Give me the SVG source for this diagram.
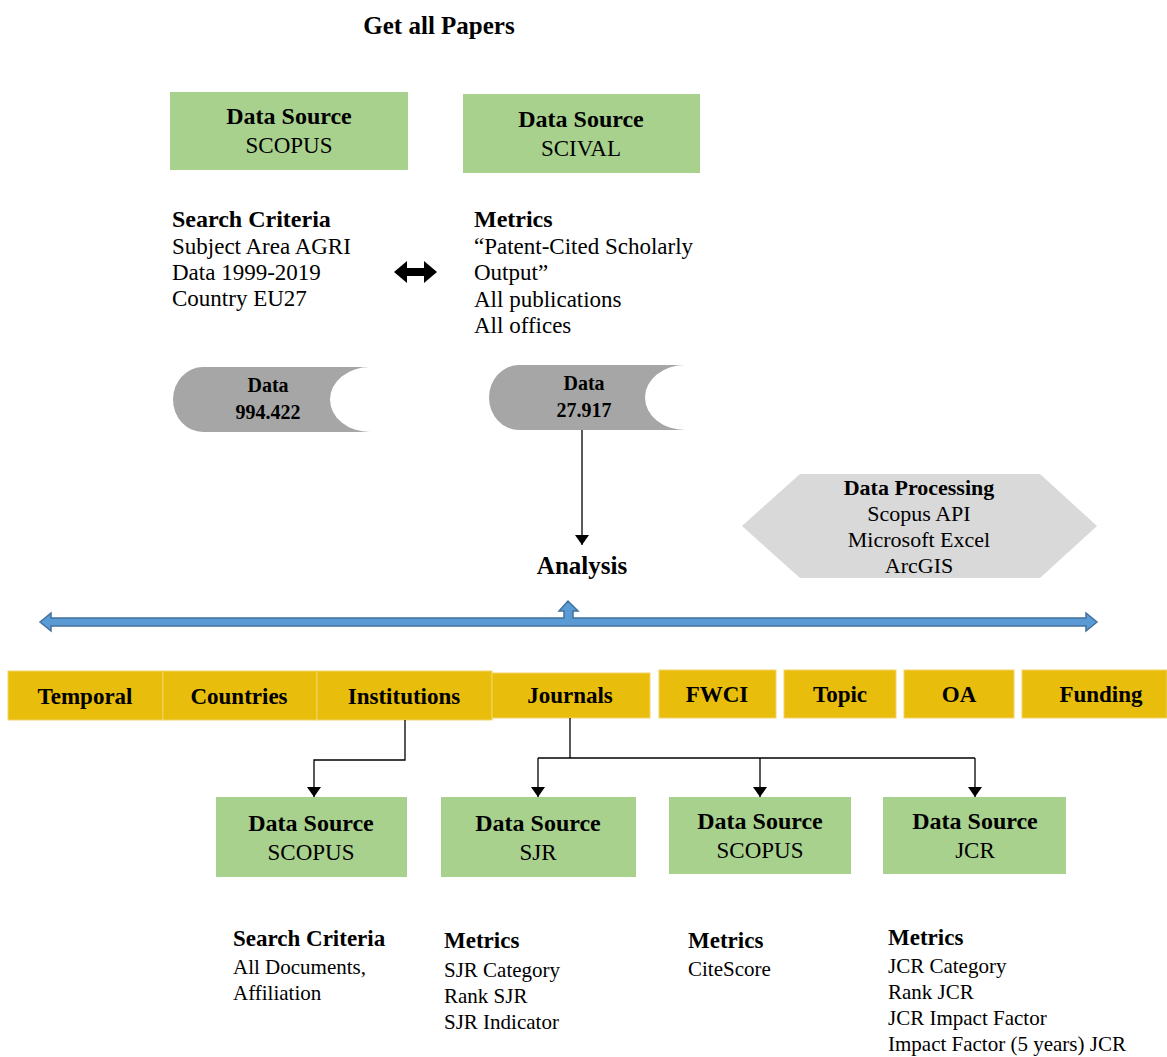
<svg xmlns="http://www.w3.org/2000/svg" width="1167" height="1057" viewBox="0 0 1167 1057">
<defs>
<style>
text{font-family:"Liberation Serif","Times New Roman",serif;fill:#000}
.b{font-weight:bold}
.h{font-size:24px;font-weight:bold}
.s{font-size:23px}
.t{font-size:23px}
.bt{font-size:21px}
.c{text-anchor:middle}
.green{fill:#a9d18e}
.yel{fill:#e8bd0c;stroke:#f3d36a;stroke-width:1}
.cyl{fill:#a6a6a6}
.ln{fill:none;stroke:#000;stroke-width:1.3}
</style>
<marker id="ah" viewBox="0 0 10 14" refX="10" refY="7" markerWidth="10" markerHeight="14" markerUnits="userSpaceOnUse" orient="auto">
<path d="M0,0 L10,7 L0,14 Z" fill="#000"/>
</marker>
</defs>
<rect width="1167" height="1057" fill="#fff"/>

<g id="title"><text class="c b" x="439" y="34" style="font-size:25px">Get all Papers</text></g>

<g id="ds-scopus-top">
<rect class="green" x="170" y="92" width="238" height="78"/>
<text class="h c" x="289" y="124">Data Source</text>
<text class="s c" x="289" y="153">SCOPUS</text>
</g>
<g id="ds-scival-top">
<rect class="green" x="463" y="94" width="237" height="79"/>
<text class="h c" x="581" y="127">Data Source</text>
<text class="s c" x="581" y="156">SCIVAL</text>
</g>

<g id="search-criteria-top">
<text class="b" x="172" y="227" style="font-size:24px">Search Criteria</text>
<text class="t" x="172" y="254">Subject Area AGRI</text>
<text class="t" x="172" y="280">Data 1999-2019</text>
<text class="t" x="172" y="306">Country EU27</text>
</g>
<g id="metrics-top">
<text class="b" x="474" y="227" style="font-size:24px">Metrics</text>
<text class="t" x="474" y="254">“Patent-Cited Scholarly</text>
<text class="t" x="474" y="280">Output”</text>
<text class="t" x="474" y="307">All publications</text>
<text class="t" x="474" y="333">All offices</text>
</g>

<g id="data-left">
<path class="cyl" d="M203,367 H370 A40,32.5 0 0 0 370,432 H203 A30,32.5 0 0 1 203,367 Z"/>
<text class="c b" x="268" y="392" style="font-size:20px">Data</text>
<text class="c b" x="268" y="419" style="font-size:20px">994.422</text>
</g>
<g id="data-right">
<path class="cyl" d="M519,365 H685 A40,32.5 0 0 0 685,430 H519 A30,32.5 0 0 1 519,365 Z"/>
<text class="c b" x="584" y="390" style="font-size:20px">Data</text>
<text class="c b" x="584" y="417" style="font-size:20px">27.917</text>
</g>

<g id="analysis"><text class="c b" x="582" y="574" style="font-size:25px">Analysis</text></g>

<g id="data-processing">
<polygon points="742,526 800,474 1040,474 1097,526 1040,578 800,578" fill="#d9d9d9"/>
<text class="c b" x="919" y="495" style="font-size:22px">Data Processing</text>
<text class="c" x="919" y="521" style="font-size:22px">Scopus API</text>
<text class="c" x="919" y="547" style="font-size:22px">Microsoft Excel</text>
<text class="c" x="919" y="573" style="font-size:22px">ArcGIS</text>
</g>

<g id="categories">
<rect class="yel" x="8" y="671" width="155" height="49"/>
<rect class="yel" x="163" y="671" width="154" height="49"/>
<rect class="yel" x="317" y="671" width="175" height="49"/>
<rect class="yel" x="492" y="673" width="158" height="45"/>
<rect class="yel" x="659" y="670" width="117" height="48"/>
<rect class="yel" x="784" y="670" width="112" height="48"/>
<rect class="yel" x="904" y="670" width="110" height="48"/>
<rect class="yel" x="1022" y="670" width="145" height="48"/>
<text class="c b" x="85" y="704" style="font-size:23px">Temporal</text>
<text class="c b" x="239" y="704" style="font-size:23px">Countries</text>
<text class="c b" x="404" y="704" style="font-size:23px">Institutions</text>
<text class="c b" x="570" y="703" style="font-size:23px">Journals</text>
<text class="c b" x="717" y="702" style="font-size:23px">FWCI</text>
<text class="c b" x="840" y="702" style="font-size:23px">Topic</text>
<text class="c b" x="959" y="702" style="font-size:23px">OA</text>
<text class="c b" x="1101" y="702" style="font-size:23px">Funding</text>
</g>

<g id="ds-scopus-b1">
<rect class="green" x="216" y="797" width="191" height="80"/>
<text class="h c" x="311" y="831">Data Source</text>
<text class="s c" x="311" y="860">SCOPUS</text>
</g>
<g id="ds-sjr">
<rect class="green" x="441" y="797" width="195" height="80"/>
<text class="h c" x="538" y="831">Data Source</text>
<text class="s c" x="538" y="860">SJR</text>
</g>
<g id="ds-scopus-b2">
<rect class="green" x="669" y="797" width="182" height="77"/>
<text class="h c" x="760" y="829">Data Source</text>
<text class="s c" x="760" y="858">SCOPUS</text>
</g>
<g id="ds-jcr">
<rect class="green" x="883" y="797" width="183" height="77"/>
<text class="h c" x="975" y="829">Data Source</text>
<text class="s c" x="975" y="858">JCR</text>
</g>

<g id="search-criteria-b">
<text class="b" x="233" y="946" style="font-size:23px">Search Criteria</text>
<text class="bt" x="233" y="974">All Documents,</text>
<text class="bt" x="233" y="1000">Affiliation</text>
</g>
<g id="metrics-sjr">
<text class="b" x="444" y="948" style="font-size:23px">Metrics</text>
<text class="bt" x="444" y="977">SJR Category</text>
<text class="bt" x="444" y="1003">Rank SJR</text>
<text class="bt" x="444" y="1029">SJR Indicator</text>
</g>
<g id="metrics-scopus">
<text class="b" x="688" y="948" style="font-size:23px">Metrics</text>
<text class="bt" x="688" y="976">CiteScore</text>
</g>
<g id="metrics-jcr">
<text class="b" x="888" y="945" style="font-size:23px">Metrics</text>
<text class="bt" x="888" y="973">JCR Category</text>
<text class="bt" x="888" y="999">Rank JCR</text>
<text class="bt" x="888" y="1025">JCR Impact Factor</text>
<text class="bt" x="888" y="1051">Impact Factor (5 years) JCR</text>
</g>

<g id="connectors">
<path d="M394,272 L407,261 L407,268 L424,268 L424,261 L437,272 L424,283 L424,276 L407,276 L407,283 Z" fill="#000"/>
<path class="ln" d="M582,430 V545" marker-end="url(#ah)"/>
<path d="M40,622 L51,613 L51,618 L564,618 L564,611 L559,611 L568,601 L578,611 L573,611 L573,618 L1086,618 L1086,613 L1097,622 L1086,631 L1086,626 L51,626 L51,631 Z" fill="#5b9bd5" stroke="#41719c" stroke-width="1.5" stroke-linejoin="miter"/>
<path class="ln" d="M405,720 V760 H314 V797" marker-end="url(#ah)"/>
<path class="ln" d="M570,718 V758"/>
<path class="ln" d="M538,758 H975"/>
<path class="ln" d="M538,758 V797" marker-end="url(#ah)"/>
<path class="ln" d="M760,758 V797" marker-end="url(#ah)"/>
<path class="ln" d="M975,758 V797" marker-end="url(#ah)"/>
</g>
</svg>
